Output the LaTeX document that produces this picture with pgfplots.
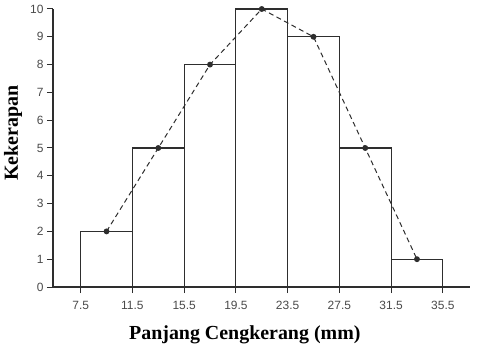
\documentclass[border=0pt]{standalone}
\usepackage{fontspec}
\setmainfont{Liberation Serif}
\newfontfamily\ticksans{Liberation Sans}
\usepackage{pgfplots}
\pgfplotsset{compat=1.18}
\definecolor{linegray}{HTML}{2E2E2E}
\definecolor{tickgray}{HTML}{4A4A4A}
\begin{document}
\begin{tikzpicture}
\begin{axis}[
  scale only axis,
  width=417bp, height=278bp,
  xmin=5.36, xmax=37.6, ymin=0, ymax=10,
  axis x line=bottom, axis y line=left,
  axis line style={-, linegray, line width=1.1bp},
  xtick={7.5,11.5,15.5,19.5,23.5,27.5,31.5,35.5},
  xticklabels={7.5,11.5,15.5,19.5,23.5,27.5,31.5,35.5},
  ytick={0,1,2,3,4,5,6,7,8,9,10},
  tick align=outside,
  major tick length=6bp,
  tick style={linegray, line width=1bp},
  ticklabel style={font=\ticksans\fontsize{12}{12}\selectfont, text=tickgray},
  xticklabel style={yshift=-4.5bp},
  /pgf/number format/assume math mode=true,
  xlabel={\textbf{Panjang Cengkerang (mm)}},
  ylabel={\textbf{Kekerapan}},
  label style={font=\fontsize{20}{20}\selectfont},
  xlabel style={at={(axis description cs:0.46,-0.173)}, anchor=center},
  ylabel style={at={(axis description cs:-0.096,0.554)}, anchor=center},
  clip=false,
]
\addplot[ybar interval, draw=linegray, fill=white, line width=1.1bp] coordinates {
  (7.5,2) (11.5,5) (15.5,8) (19.5,10) (23.5,9) (27.5,5) (31.5,1) (35.5,1)
};
\addplot[linegray, line width=1bp, dash pattern=on 5bp off 3.5bp,
  mark=*, mark size=2.4bp, mark options={solid, fill=linegray}] coordinates {
  (9.5,2) (13.5,5) (17.5,8) (21.5,10) (25.5,9) (29.5,5) (33.5,1)
};
\coordinate (O) at (rel axis cs:0,0);
\end{axis}
\path (O) ++(-53bp,-74bp) rectangle ++(480bp,361bp);
\end{tikzpicture}
\end{document}
